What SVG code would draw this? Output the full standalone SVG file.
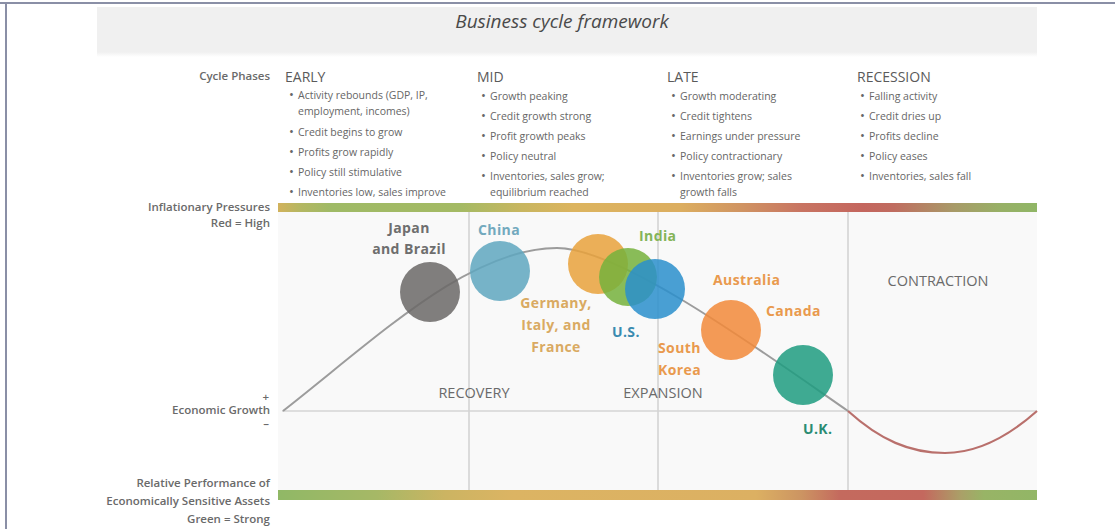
<svg xmlns="http://www.w3.org/2000/svg" width="1115" height="529" viewBox="0 0 1115 529">
  <style>
    text { font-family: "Open Sans", "Liberation Sans", sans-serif; }
    .title { font-size: 19px; font-style: italic; fill: #4a4a4a; }
    .side { font-size: 11.5px; font-weight: 600; fill: #6a6a6a; text-anchor: end; }
    .phase { font-size: 14px; fill: #5a5a5a; }
    .item { font-size: 10.5px; fill: #666; }
    .dot { font-size: 13px; fill: #666; }
    .stage { font-size: 14.5px; fill: #6a6a6a; }
    .lbl { font-size: 14px; font-weight: 700; letter-spacing: 0.4px; }
    .grid { stroke: #d4d4d4; stroke-width: 1.6; fill: none; }
    .bubble { fill-opacity: 0.85; }
  </style>
  <defs>
    <linearGradient id="inflation" gradientUnits="userSpaceOnUse" x1="278" y1="0" x2="1037" y2="0">
      <stop offset="0" stop-color="#d2b25c"/>
      <stop offset="0.03" stop-color="#b4b762"/>
      <stop offset="0.07" stop-color="#9fba66"/>
      <stop offset="0.24" stop-color="#a4ba64"/>
      <stop offset="0.32" stop-color="#c8b660"/>
      <stop offset="0.39" stop-color="#dcb45f"/>
      <stop offset="0.53" stop-color="#dcae60"/>
      <stop offset="0.61" stop-color="#d09462"/>
      <stop offset="0.69" stop-color="#c87462"/>
      <stop offset="0.77" stop-color="#c4665e"/>
      <stop offset="0.81" stop-color="#c06c60"/>
      <stop offset="0.89" stop-color="#a89a68"/>
      <stop offset="0.95" stop-color="#98b066"/>
      <stop offset="1" stop-color="#90b666"/>
    </linearGradient>
    <linearGradient id="assets" gradientUnits="userSpaceOnUse" x1="278" y1="0" x2="1037" y2="0">
      <stop offset="0" stop-color="#90b866"/>
      <stop offset="0.13" stop-color="#a6b866"/>
      <stop offset="0.22" stop-color="#ccb462"/>
      <stop offset="0.31" stop-color="#dcb463"/>
      <stop offset="0.63" stop-color="#dcb062"/>
      <stop offset="0.69" stop-color="#cc9462"/>
      <stop offset="0.74" stop-color="#c46a5e"/>
      <stop offset="0.85" stop-color="#c4685e"/>
      <stop offset="0.90" stop-color="#aaa068"/>
      <stop offset="0.93" stop-color="#98b466"/>
      <stop offset="1" stop-color="#92b666"/>
    </linearGradient>
    <linearGradient id="shade" x1="0" y1="0" x2="0" y2="1">
      <stop offset="0" stop-color="#f0f0f0"/>
      <stop offset="1" stop-color="#ffffff"/>
    </linearGradient>
  </defs>

  <!-- page -->
  <rect x="0" y="0" width="1115" height="529" fill="#ffffff"/>
  <line x1="0" y1="3" x2="1115" y2="3" stroke="#8a8fa6" stroke-width="2"/>
  <line x1="6" y1="3" x2="6" y2="529" stroke="#8a8fa6" stroke-width="2"/>

  <!-- title band -->
  <rect x="97" y="7" width="940" height="45" fill="#f0f0f0"/>
  <rect x="97" y="52" width="940" height="5" fill="url(#shade)"/>
  <text class="title" x="562" y="28" text-anchor="middle">Business cycle framework</text>

  <!-- chart panel -->
  <rect x="278" y="212" width="759" height="278" fill="#f9f9f9"/>

  <!-- side captions -->
  <text class="side" x="270" y="80">Cycle Phases</text>
  <text class="side" x="270" y="211">Inflationary Pressures</text>
  <text class="side" x="270" y="227">Red = High</text>
  <text class="side" x="269" y="401">+</text>
  <text class="side" x="270" y="414">Economic Growth</text>
  <text class="side" x="269" y="428">–</text>
  <text class="side" x="270" y="487">Relative Performance of</text>
  <text class="side" x="270" y="505">Economically Sensitive Assets</text>
  <text class="side" x="270" y="523">Green = Strong</text>

  <!-- phase columns -->
  <g id="phase-early">
    <text class="phase" x="285" y="82">EARLY</text>
    <text class="item" x="289" y="99"><tspan class="dot">•</tspan><tspan x="298">Activity rebounds (GDP, IP,</tspan></text>
    <text class="item" x="298" y="115">employment, incomes)</text>
    <text class="item" x="289" y="136"><tspan class="dot">•</tspan><tspan x="298">Credit begins to grow</tspan></text>
    <text class="item" x="289" y="156"><tspan class="dot">•</tspan><tspan x="298">Profits grow rapidly</tspan></text>
    <text class="item" x="289" y="176"><tspan class="dot">•</tspan><tspan x="298">Policy still stimulative</tspan></text>
    <text class="item" x="289" y="196"><tspan class="dot">•</tspan><tspan x="298">Inventories low, sales improve</tspan></text>
  </g>
  <g id="phase-mid">
    <text class="phase" x="477" y="82">MID</text>
    <text class="item" x="481" y="100"><tspan class="dot">•</tspan><tspan x="490">Growth peaking</tspan></text>
    <text class="item" x="481" y="120"><tspan class="dot">•</tspan><tspan x="490">Credit growth strong</tspan></text>
    <text class="item" x="481" y="140"><tspan class="dot">•</tspan><tspan x="490">Profit growth peaks</tspan></text>
    <text class="item" x="481" y="160"><tspan class="dot">•</tspan><tspan x="490">Policy neutral</tspan></text>
    <text class="item" x="481" y="180"><tspan class="dot">•</tspan><tspan x="490">Inventories, sales grow;</tspan></text>
    <text class="item" x="490" y="196">equilibrium reached</text>
  </g>
  <g id="phase-late">
    <text class="phase" x="667" y="82">LATE</text>
    <text class="item" x="671" y="100"><tspan class="dot">•</tspan><tspan x="680">Growth moderating</tspan></text>
    <text class="item" x="671" y="120"><tspan class="dot">•</tspan><tspan x="680">Credit tightens</tspan></text>
    <text class="item" x="671" y="140"><tspan class="dot">•</tspan><tspan x="680">Earnings under pressure</tspan></text>
    <text class="item" x="671" y="160"><tspan class="dot">•</tspan><tspan x="680">Policy contractionary</tspan></text>
    <text class="item" x="671" y="180"><tspan class="dot">•</tspan><tspan x="680">Inventories grow; sales</tspan></text>
    <text class="item" x="680" y="196">growth falls</text>
  </g>
  <g id="phase-recession">
    <text class="phase" x="857" y="82">RECESSION</text>
    <text class="item" x="860" y="100"><tspan class="dot">•</tspan><tspan x="869">Falling activity</tspan></text>
    <text class="item" x="860" y="120"><tspan class="dot">•</tspan><tspan x="869">Credit dries up</tspan></text>
    <text class="item" x="860" y="140"><tspan class="dot">•</tspan><tspan x="869">Profits decline</tspan></text>
    <text class="item" x="860" y="160"><tspan class="dot">•</tspan><tspan x="869">Policy eases</tspan></text>
    <text class="item" x="860" y="180"><tspan class="dot">•</tspan><tspan x="869">Inventories, sales fall</tspan></text>
  </g>

  <!-- colour scales -->
  <rect x="278" y="203" width="759" height="9" fill="url(#inflation)"/>
  <rect x="278" y="490" width="759" height="10" fill="url(#assets)"/>

  <!-- grid -->
  <g id="grid">
    <line class="grid" x1="469" y1="212" x2="469" y2="490"/>
    <line class="grid" x1="658" y1="212" x2="658" y2="490"/>
    <line class="grid" x1="848" y1="212" x2="848" y2="490"/>
    <line class="grid" x1="282" y1="411" x2="1037" y2="411" stroke-width="2"/>
  </g>

  <text class="stage" x="474" y="398" text-anchor="middle">RECOVERY</text>
  <text class="stage" x="663" y="398" text-anchor="middle">EXPANSION</text>
  <text class="stage" x="938" y="286" text-anchor="middle">CONTRACTION</text>

  <!-- growth curve -->
  <g id="connectors">
    <path d="M283,411 C380,335 470,248 557,248 C620,248 760,350 848,411" fill="none" stroke="#9c9c9c" stroke-width="2"/>
    <path d="M848,411 C880,440 910,453 945,453 C980,453 1010,435 1037,411" fill="none" stroke="#b9706c" stroke-width="2.2"/>
  </g>

  <!-- countries -->
  <g id="japan-brazil">
    <circle class="bubble" cx="430" cy="292" r="30" fill="#6b6967"/>
    <text class="lbl" x="409" y="233" text-anchor="middle" fill="#6e6e6e">Japan</text>
    <text class="lbl" x="409" y="254" text-anchor="middle" fill="#6e6e6e">and Brazil</text>
  </g>
  <g id="china">
    <circle class="bubble" cx="500" cy="271" r="30" fill="#5fa7c0"/>
    <text class="lbl" x="478" y="235" fill="#72a9be">China</text>
  </g>
  <g id="germany-italy-france">
    <circle class="bubble" cx="598" cy="264" r="30" fill="#e9a23c"/>
    <text class="lbl" x="556" y="308" text-anchor="middle" fill="#d9aa62">Germany,</text>
    <text class="lbl" x="556" y="330" text-anchor="middle" fill="#d9aa62">Italy, and</text>
    <text class="lbl" x="556" y="352" text-anchor="middle" fill="#d9aa62">France</text>
  </g>
  <g id="india">
    <circle class="bubble" cx="628" cy="277" r="29" fill="#76b23c"/>
    <text class="lbl" x="639" y="241" fill="#84b458">India</text>
  </g>
  <g id="us">
    <circle class="bubble" cx="655" cy="289" r="30" fill="#2a8fcc"/>
    <text class="lbl" x="612" y="337" fill="#3a8bb0">U.S.</text>
  </g>
  <g id="australia-canada-korea">
    <circle class="bubble" cx="731" cy="330" r="30" fill="#f28a3a"/>
    <text class="lbl" x="713" y="285" fill="#e99a4e">Australia</text>
    <text class="lbl" x="766" y="316" fill="#e99a4e">Canada</text>
    <text class="lbl" x="658" y="353" fill="#e99a4e">South</text>
    <text class="lbl" x="658" y="375" fill="#e99a4e">Korea</text>
  </g>
  <g id="uk">
    <circle class="bubble" cx="803" cy="375" r="30" fill="#1f9c80"/>
    <text class="lbl" x="803" y="434" fill="#2a8c72">U.K.</text>
  </g>
</svg>
